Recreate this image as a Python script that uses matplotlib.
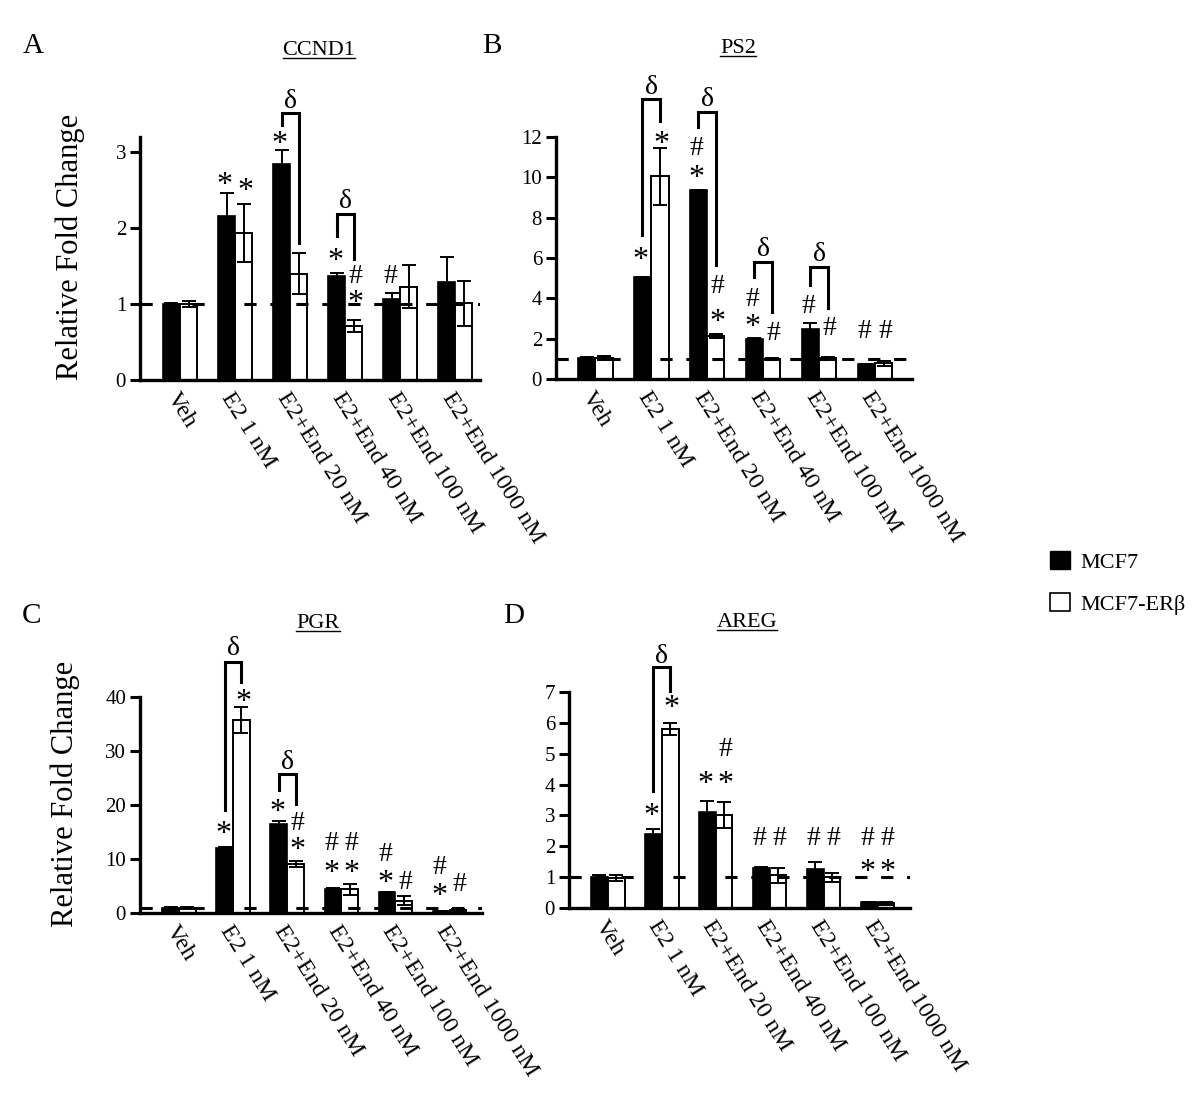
import matplotlib
matplotlib.use('Agg')
import matplotlib.pyplot as plt
import numpy as np
from matplotlib.patches import Patch
from matplotlib.lines import Line2D

plt.rcParams['font.family'] = ['Liberation Serif', 'DejaVu Serif']

groups = ['Veh', 'E2 1 nM', 'E2+End 20 nM', 'E2+End 40 nM',
          'E2+End 100 nM', 'E2+End 1000 nM']

# A - CCND1
ccnd1_mcf7 = [1.00, 2.16, 2.84, 1.37, 1.07, 1.29]
ccnd1_mcf7_err = [0.01, 0.30, 0.19, 0.04, 0.08, 0.33]
ccnd1_erb = [1.00, 1.94, 1.40, 0.71, 1.23, 1.01]
ccnd1_erb_err = [0.04, 0.38, 0.27, 0.08, 0.28, 0.30]

# B - PS2
ps2_mcf7 = [1.05, 5.05, 9.36, 1.98, 2.46, 0.72]
ps2_mcf7_err = [0.04, 0.03, 0.03, 0.06, 0.30, 0.04]
ps2_erb = [1.02, 10.05, 2.15, 0.97, 1.02, 0.78]
ps2_erb_err = [0.10, 1.40, 0.10, 0.05, 0.08, 0.12]

# C - PGR
pgr_mcf7 = [1.0, 12.1, 16.4, 4.5, 3.8, 0.3]
pgr_mcf7_err = [0.1, 0.1, 0.6, 0.2, 0.15, 0.05]
pgr_erb = [1.0, 35.8, 9.1, 4.4, 2.3, 0.5]
pgr_erb_err = [0.2, 2.4, 0.6, 1.0, 0.8, 0.2]

# D - AREG
areg_mcf7 = [1.02, 2.41, 3.11, 1.30, 1.26, 0.19]
areg_mcf7_err = [0.05, 0.15, 0.35, 0.03, 0.22, 0.01]
areg_erb = [0.98, 5.80, 3.02, 1.06, 0.99, 0.16]
areg_erb_err = [0.10, 0.20, 0.43, 0.25, 0.15, 0.05]

# significance marks: (group, bar 0=MCF7 1=ERb, symbol, y)
ccnd1_marks = [(1, 0, '*', 2.68), (1, 1, '*', 2.59), (2, 0, '*', 3.22),
               (3, 0, '*', 1.67), (3, 1, '#', 1.40), (3, 1, '*', 1.12),
               (4, 0, '#', 1.40)]
ps2_marks = [(1, 0, '*', 6.3), (1, 1, '*', 12.08), (2, 0, '#', 11.6),
             (2, 0, '*', 10.35), (2, 1, '#', 4.74), (2, 1, '*', 3.25),
             (3, 0, '#', 4.1), (3, 0, '*', 3.0), (3, 1, '#', 2.4),
             (4, 0, '#', 3.75), (4, 1, '#', 2.67), (5, 0, '#', 2.5),
             (5, 1, '#', 2.5)]
pgr_marks = [(1, 0, '*', 16.1), (1, 1, '*', 40.6), (2, 0, '*', 20.2),
             (2, 1, '#', 17.2), (2, 1, '*', 13.2), (3, 0, '#', 13.5),
             (3, 0, '*', 8.9), (3, 1, '#', 13.5), (3, 1, '*', 8.9),
             (4, 0, '#', 11.4), (4, 0, '*', 7.1), (4, 1, '#', 6.15),
             (5, 0, '#', 8.9), (5, 0, '*', 4.6), (5, 1, '#', 5.8)]
areg_marks = [(1, 0, '*', 3.26), (1, 1, '*', 6.75), (2, 0, '*', 4.29),
              (2, 1, '#', 5.24), (2, 1, '*', 4.29), (3, 0, '#', 2.34),
              (3, 1, '#', 2.34), (4, 0, '#', 2.34), (4, 1, '#', 2.34),
              (5, 0, '#', 2.34), (5, 1, '#', 2.34), (5, 0, '*', 1.44),
              (5, 1, '*', 1.44)]

# delta brackets: (group, top, left leg bottom, right leg bottom, delta y)
ccnd1_brackets = [(2, 3.51, 3.36, 1.80, 3.71), (3, 2.19, 1.89, 1.60, 2.39)]
ps2_brackets = [(1, 13.86, 7.13, 12.8, 14.6), (2, 13.23, 12.5, 5.64, 14.0),
                (3, 5.81, 5.07, 3.33, 6.55), (4, 5.56, 4.65, 3.5, 6.3)]
pgr_brackets = [(1, 46.5, 19.1, 42.8, 49.5), (2, 25.7, 22.8, 20.2, 28.4)]
areg_brackets = [(1, 7.81, 3.78, 7.02, 8.24)]

fig = plt.figure(figsize=(12, 10.95), dpi=100)
W, H = 1200, 1095

w = 0.31
sym_fs = {'*': 23, '#': 20}
sym_off = {'*': 0.27, '#': 0.11}


def make_panel(rect, xlim, ylim, ticks, m, me, e, ee, marks, brackets, ylabel):
    ax = fig.add_axes(rect)
    x = np.arange(len(groups))
    ax.bar(x - w / 2, m, w, color='black', edgecolor='black', linewidth=1.2, zorder=2)
    ax.bar(x + w / 2, e, w, color='white', edgecolor='black', linewidth=1.4, zorder=2)
    ax.errorbar(x - w / 2, m, yerr=me, fmt='none', ecolor='black',
                elinewidth=1.4, capsize=5, capthick=1.4, zorder=3)
    ax.errorbar(x + w / 2, e, yerr=ee, fmt='none', ecolor='black',
                elinewidth=1.4, capsize=5, capthick=1.4, zorder=3)
    ax.axhline(1, color='black', lw=2.2, ls=(0, (4, 4.5)), zorder=4)
    ax.set_xlim(*xlim)
    ax.set_ylim(*ylim)
    ax.set_yticks(ticks)
    ax.set_xticks(x)
    ax.set_xticklabels(groups, rotation=-58, ha='left', va='top',
                       rotation_mode='anchor', fontsize=17.5)
    ax.tick_params(axis='x', length=0, pad=6)
    ax.tick_params(axis='y', direction='out', length=7, width=2.2,
                   labelsize=15, pad=3)
    for s in ['top', 'right']:
        ax.spines[s].set_visible(False)
    for s in ['left', 'bottom']:
        ax.spines[s].set_linewidth(2.4)
    for g, b, sym, y in marks:
        xx = g - w / 2 - 0.03 if b == 0 else g + w / 2 + 0.03
        fs = sym_fs[sym]
        ax.annotate(sym, (xx, y), xytext=(0, -sym_off[sym] * fs),
                    textcoords='offset points', ha='center', va='center',
                    fontsize=fs, annotation_clip=False)
    for g, top, lb, rb, dy in brackets:
        xl, xr = g - w / 2, g + w / 2
        ax.plot([xl, xl, xr, xr], [lb, top, top, rb], color='black', lw=2.2,
                clip_on=False, solid_joinstyle='miter', zorder=5)
        ax.annotate('δ', ((xl + xr) / 2, dy), xytext=(0, -2),
                    textcoords='offset points', ha='center', va='center',
                    fontsize=20, annotation_clip=False)
    if ylabel:
        ax.set_ylabel('Relative Fold Change', fontsize=22)
    return ax


axA = make_panel([140 / W, 1 - 380 / H, 340 / W, 243 / H], (-0.727, 5.45), (0, 3.2),
                 [0, 1, 2, 3], ccnd1_mcf7, ccnd1_mcf7_err, ccnd1_erb, ccnd1_erb_err,
                 ccnd1_marks, ccnd1_brackets, True)
axA.yaxis.set_label_coords(-0.162, 0.547)
axB = make_panel([556 / W, 1 - 379 / H, 356 / W, 242 / H], (-0.70, 5.66), (0, 12),
                 [0, 2, 4, 6, 8, 10, 12], ps2_mcf7, ps2_mcf7_err, ps2_erb, ps2_erb_err,
                 ps2_marks, ps2_brackets, False)
axC = make_panel([140 / W, 1 - 913 / H, 342 / W, 216 / H], (-0.72, 5.6), (0, 40),
                 [0, 10, 20, 30, 40], pgr_mcf7, pgr_mcf7_err, pgr_erb, pgr_erb_err,
                 pgr_marks, pgr_brackets, True)
axC.yaxis.set_label_coords(-0.175, 0.55)
axD = make_panel([569 / W, 1 - 908 / H, 341 / W, 216 / H], (-0.72, 5.6), (0, 7),
                 [0, 1, 2, 3, 4, 5, 6, 7], areg_mcf7, areg_mcf7_err, areg_erb, areg_erb_err,
                 areg_marks, areg_brackets, False)

# panel letters
for lab, px, py in [('A', 23, 53), ('B', 482, 53), ('C', 22, 623), ('D', 503, 623)]:
    fig.text(px / W, 1 - py / H, lab, fontsize=21, ha='left', va='baseline')

# underlined gene titles
titles = []
for lab, px, py in [('CCND1', 319, 55), ('PS2', 738, 53), ('PGR', 318, 628), ('AREG', 747, 627)]:
    titles.append(fig.text(px / W, 1 - py / H, lab, fontsize=16, ha='center', va='baseline'))
fig.canvas.draw()
r = fig.canvas.get_renderer()
for t in titles:
    bb = t.get_window_extent(r)
    yb = t.get_position()[1] - 3 / H
    fig.add_artist(Line2D([bb.x0 / W, bb.x1 / W], [yb, yb], color='black', lw=1.0))

fig.legend(handles=[Patch(facecolor='black', edgecolor='black'),
                    Patch(facecolor='white', edgecolor='black', linewidth=1.2)],
           labels=['MCF7', 'MCF7-ERβ'], loc='upper left',
           bbox_to_anchor=(1050 / W, 1 - 551 / H), frameon=False, fontsize=16,
           handlelength=0.9, handleheight=0.9, handletextpad=0.45,
           labelspacing=0.9, borderpad=0, borderaxespad=0)

fig.savefig('out.png', dpi=100)
